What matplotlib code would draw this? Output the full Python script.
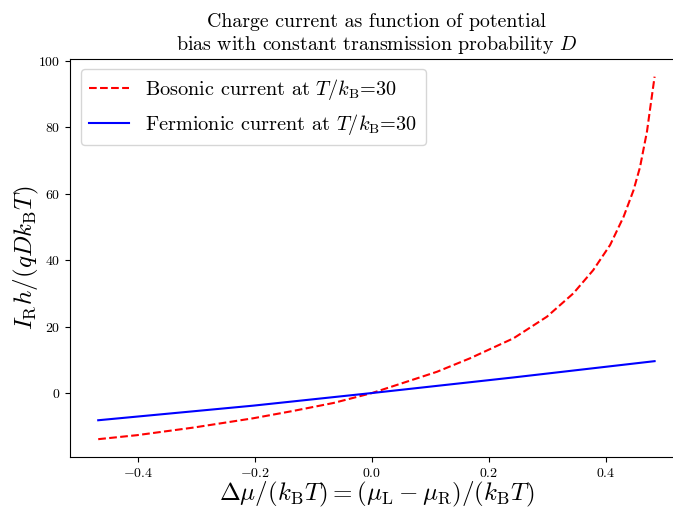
import matplotlib
matplotlib.use("Agg")
import matplotlib.pyplot as plt

plt.rcParams['font.family'] = 'serif'
plt.rcParams['font.serif'] = ['cmr10']
plt.rcParams['mathtext.fontset'] = 'cm'
plt.rcParams['axes.formatter.use_mathtext'] = True

# values
bias_boson = [-0.468, -0.402, -0.305, -0.203, -0.135, -0.066, 0.0, 0.054, 0.111,
              0.168, 0.242, 0.299, 0.344, 0.378, 0.407, 0.430, 0.447, 0.458,
              0.470, 0.476, 0.483]
current_boson = [-13.9, -12.7, -10.4, -7.6, -5.4, -3.0, 0.0, 3.1, 6.4,
                 10.5, 16.5, 23.0, 30.0, 37.0, 44.6, 53.1, 61.1, 68.0,
                 78.8, 86.5, 95.3]

bias_fermion = [-0.468, -0.203, 0.0, 0.242, 0.483]
current_fermion = [-8.2, -3.8, 0.0, 4.7, 9.6]

label_boson = r"Bosonic current at $T/k_\mathrm{B}$=30"
label_fermion = r"Fermionic current at $T/k_\mathrm{B}$=30"

fig = plt.figure(figsize=(6.73, 5.08), dpi=100)
ax = fig.add_axes([0.1046, 0.0998, 0.9094, 0.785])

ax.plot(bias_boson, current_boson, 'r--', label=label_boson)
ax.plot(bias_fermion, current_fermion, 'b-', label=label_fermion)

ax.set_title("Charge current as function of potential\n"
             "bias with constant transmission probability $D$", fontsize=14.3)
ax.set_xlabel(r"$\Delta\mu/(k_\mathrm{B}T) = (\mu_\mathrm{L}-\mu_\mathrm{R})/(k_\mathrm{B}T)$",
              fontsize=18, labelpad=0)
ax.set_ylabel(r"$I_\mathrm{R}h/(qDk_\mathrm{B}T)$", fontsize=18, labelpad=-2)
ax.legend(loc='upper left', fontsize=14.6)

fig.savefig("out.png", dpi=100)
